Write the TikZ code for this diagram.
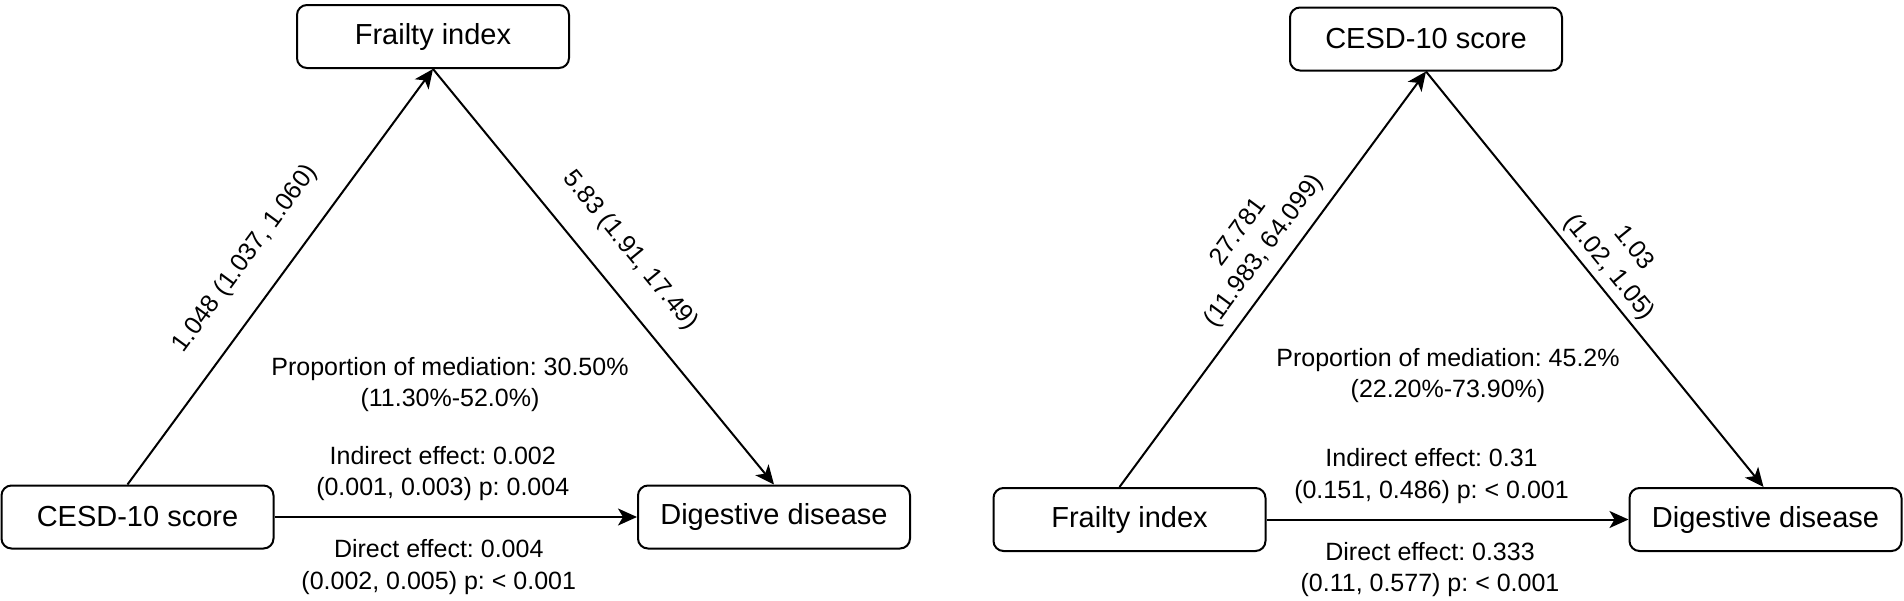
\documentclass[tikz,border=0pt]{standalone}
\usepackage{fontspec}
\setmainfont{Liberation Sans}
\usetikzlibrary{arrows.meta}
\frenchspacing

\begin{document}
\begin{tikzpicture}[x=1pt, y=-1pt,
  box/.style = {draw, rectangle, rounded corners=10pt, line width=2pt, minimum width=272pt, minimum height=63pt, inner sep=0pt, font=\fontsize{29}{35}\selectfont},
  lbl/.style = {align=center, inner sep=0pt, font=\fontsize{25}{31.5}\selectfont},
  link/.style = {-{Stealth[length=19pt, width=17pt, inset=5pt]}, line width=2pt}]
\useasboundingbox (0,0) rectangle (1904,600);
\node[box](c1) at (137.5,517){CESD-10 score};
\node[box](f1) at (433,36.5){Frailty index};
\node[box](d1) at (774,517){Digestive disease};
\draw [link]([xshift=-10pt]c1.north) -- (f1.south) node[lbl, sloped, above=26pt, pos=.488](a1){1.048 (1.037, 1.060)};
\draw [link](f1.south) -- (d1.north) node[lbl, sloped, above=24.4pt, pos=.494](b1){5.83 (1.91, 17.49)};
\draw [link](c1) -- (d1) node[lbl, above=15pt, pos=.5, xshift=-13pt](i1){Indirect effect: 0.002\\(0.001, 0.003) p: 0.004} node[lbl, below=21.5pt, pos=.5, xshift=-17pt](e1){Direct effect: 0.004\\(0.002, 0.005) p: < 0.001};
\node[lbl, anchor=north](p1) at (450,357){Proportion of mediation: 30.50\%\\(11.30\%-52.0\%)};

\node[box](f2) at (1129.5,519.5){Frailty index};
\node[box](c2) at (1426,39){CESD-10 score};
\node[box](d2) at (1765.5,519.5){Digestive disease};
\draw [link]([xshift=-10pt]f2.north) -- (c2.south) node[lbl, sloped, above=11pt, pos=.534](a2){27.781\\(11.983, 64.099)};
\draw [link](c2.south) -- ([xshift=-2pt]d2.north) node[lbl, sloped, above=5.6pt, pos=.5](b2){1.03\\(1.02, 1.05)};
\draw [link](f2) -- (d2) node[lbl, above=15pt, pos=.5, xshift=-16pt](i2){Indirect effect: 0.31\\(0.151, 0.486) p: < 0.001} node[lbl, below=21.5pt, pos=.5, xshift=-17.5pt](e2){Direct effect: 0.333\\(0.11, 0.577) p: < 0.001};
\node[lbl, anchor=north](p2) at (1448,348){Proportion of mediation: 45.2\%\\(22.20\%-73.90\%)};
\end{tikzpicture}
\end{document}
